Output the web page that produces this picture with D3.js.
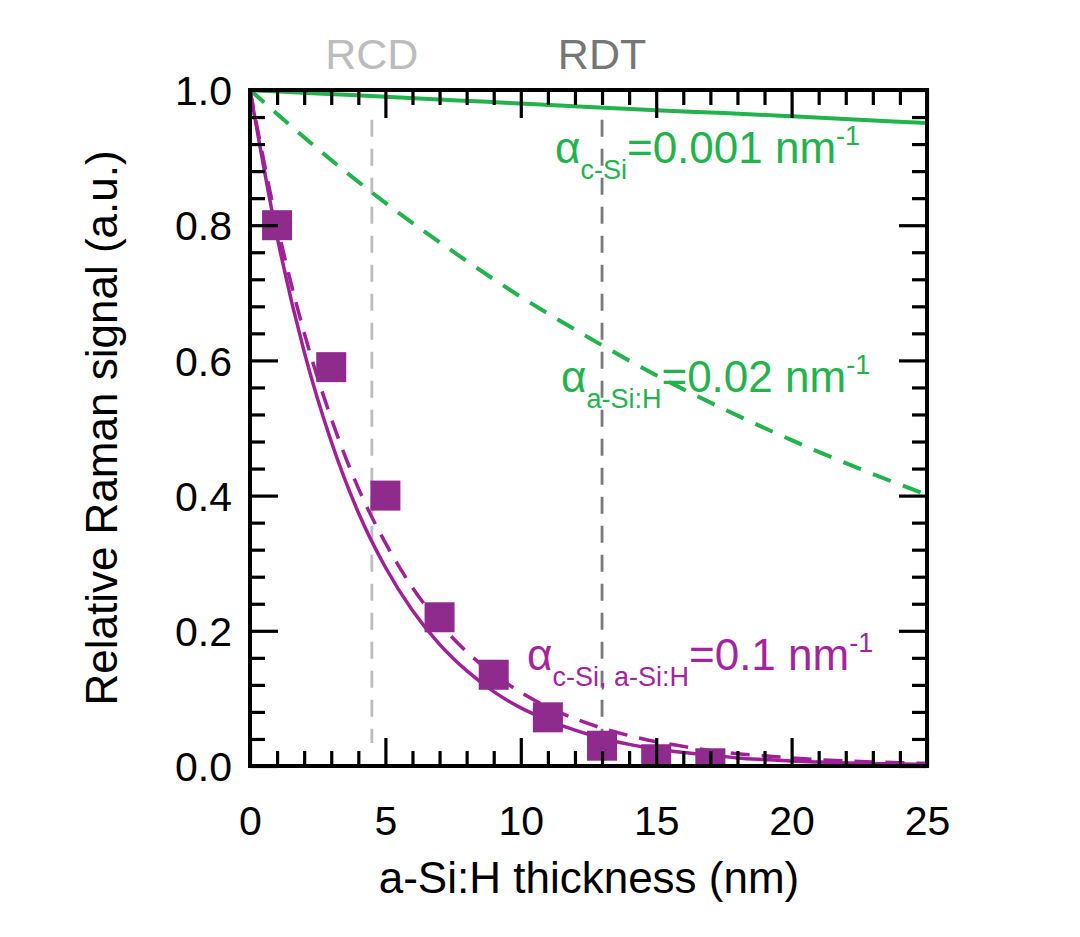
<!DOCTYPE html>
<html>
<head>
<meta charset="utf-8">
<script src="https://cdn.jsdelivr.net/npm/d3@7"></script>
<style>
  html, body { margin: 0; padding: 0; background: #fff; }
  svg { display: block; font-family: "Liberation Sans", Arial, sans-serif; }
</style>
</head>
<body>
<svg id="chart" width="1080" height="937"></svg>
<script>
// ---- data ----
const xTicks = [0, 5, 10, 15, 20, 25];
const yTicks = [0.0, 0.2, 0.4, 0.6, 0.8, 1.0];
const yTickLabels = ["0.0", "0.2", "0.4", "0.6", "0.8", "1.0"];

const thickness = [0,1,2,3,4,5,6,7,8,9,10,11,12,13,14,15,16,17,18,19,20,21,22,23,24,25];
const magentaSolid = [1.000,0.783,0.613,0.480,0.375,0.294,0.230,0.180,0.141,0.110,0.086,0.068,0.053,0.041,0.032,0.025,0.020,0.016,0.012,0.0095,0.0074,0.0058,0.0045,0.0036,0.0028,0.0022];
const magentaDashed = [1.000,0.801,0.641,0.514,0.411,0.330,0.264,0.211,0.169,0.136,0.109,0.087,0.070,0.056,0.045,0.036,0.029,0.023,0.018,0.015,0.012,0.0094,0.0075,0.0060,0.0048,0.0039];

const greenX = [0, 2.5, 5, 7.5, 10, 12.5, 15, 17.5, 20, 22.5, 25];
const greenSolid = [1.000, 0.995, 0.990, 0.985, 0.980, 0.975, 0.970, 0.966, 0.961, 0.956, 0.951];
const greenDashed = [1.000, 0.913, 0.833, 0.761, 0.694, 0.634, 0.578, 0.528, 0.482, 0.440, 0.401];

const squareX = [1, 3, 5, 7, 9, 11, 13, 15, 17];
const squareY = [0.80, 0.59, 0.40, 0.22, 0.135, 0.072, 0.030, 0.010, 0.004];

const markerLines = [
  { name: "RCD", x: 4.5, color: "#bdbdbd", textColor: "#bcbcbc" },
  { name: "RDT", x: 13, color: "#7a7a7a", textColor: "#767676" }
];

const xTitle = "a-Si:H thickness (nm)";
const yTitle = "Relative Raman signal (a.u.)";

// ---- layout ----
const svg = d3.select("#chart");
const L = 250, R = 927, T = 90, B = 766;
const x = d3.scaleLinear().domain([0, 25]).range([L, R]);
const y = d3.scaleLinear().domain([0, 1]).range([B, T]);

const GREEN = "#22b34c";
const MAG = "#a0209a";
const SQ = "#8f2b8d";
const MAGTXT = "#a3249c";

svg.append("defs").append("clipPath").attr("id", "plotclip")
  .append("rect").attr("x", L).attr("y", T).attr("width", R - L).attr("height", B - T);

const plot = svg.append("g").attr("clip-path", "url(#plotclip)");

// vertical marker lines
markerLines.forEach(m => {
  plot.append("line")
    .attr("x1", x(m.x)).attr("x2", x(m.x))
    .attr("y1", y(0.956)).attr("y2", y(0.034))
    .attr("stroke", m.color).attr("stroke-width", 2.8)
    .attr("stroke-dasharray", "17,12");
  svg.append("text")
    .attr("x", x(m.x)).attr("y", 69)
    .attr("text-anchor", "middle")
    .attr("font-size", 43)
    .attr("fill", m.textColor)
    .text(m.name);
});

const line = d3.line().curve(d3.curveMonotoneX);

// green curves
plot.append("path")
  .attr("d", line(greenX.map((d, i) => [x(d), y(greenSolid[i])])))
  .attr("fill", "none").attr("stroke", GREEN).attr("stroke-width", 4);
plot.append("path")
  .attr("d", line(greenX.map((d, i) => [x(d), y(greenDashed[i])])))
  .attr("fill", "none").attr("stroke", GREEN).attr("stroke-width", 4)
  .attr("stroke-dasharray", "19,13");

// magenta curves
plot.append("path")
  .attr("d", line(thickness.map((d, i) => [x(d), y(magentaSolid[i])])))
  .attr("fill", "none").attr("stroke", MAG).attr("stroke-width", 3.5);
plot.append("path")
  .attr("d", line(thickness.map((d, i) => [x(d), y(magentaDashed[i])])))
  .attr("fill", "none").attr("stroke", MAG).attr("stroke-width", 3.5)
  .attr("stroke-dasharray", "19,12");

// squares
const S = 30;
plot.selectAll("rect.sq").data(squareX).enter().append("rect")
  .attr("class", "sq")
  .attr("x", (d) => x(d) - S / 2)
  .attr("y", (d, i) => y(squareY[i]) - S / 2)
  .attr("width", S).attr("height", S)
  .attr("fill", SQ);

// ---- axes (ticks inward on all four sides) ----
const xMinor = d3.range(0, 26, 1).filter(v => v % 5 !== 0);
const yMinor = d3.range(0, 26, 1).filter(i => i % 5 !== 0).map(i => i * 0.04);
const MAJ = 28, MIN = 15;

const axB = svg.append("g").attr("transform", `translate(0,${B})`)
  .call(d3.axisBottom(x).tickValues(xTicks).tickSize(-MAJ).tickPadding(40).tickFormat(d3.format("d")));
const axBm = svg.append("g").attr("transform", `translate(0,${B})`)
  .call(d3.axisBottom(x).tickValues(xMinor).tickSize(-MIN).tickFormat(""));
const axT = svg.append("g").attr("transform", `translate(0,${T})`)
  .call(d3.axisTop(x).tickValues(xTicks).tickSize(-MAJ).tickFormat(""));
const axTm = svg.append("g").attr("transform", `translate(0,${T})`)
  .call(d3.axisTop(x).tickValues(xMinor).tickSize(-MIN).tickFormat(""));
const axL = svg.append("g").attr("transform", `translate(${L},0)`)
  .call(d3.axisLeft(y).tickValues(yTicks).tickSize(-MAJ).tickPadding(18).tickFormat((d, i) => yTickLabels[i]));
const axLm = svg.append("g").attr("transform", `translate(${L},0)`)
  .call(d3.axisLeft(y).tickValues(yMinor).tickSize(-MIN).tickFormat(""));
const axR = svg.append("g").attr("transform", `translate(${R},0)`)
  .call(d3.axisRight(y).tickValues(yTicks).tickSize(-MAJ).tickFormat(""));
const axRm = svg.append("g").attr("transform", `translate(${R},0)`)
  .call(d3.axisRight(y).tickValues(yMinor).tickSize(-MIN).tickFormat(""));

[axB, axBm, axT, axTm, axL, axLm, axR, axRm].forEach(g => {
  g.select(".domain").remove();
  g.selectAll(".tick line").attr("stroke", "#000").attr("stroke-width", 3.2);
  g.selectAll(".tick text").attr("fill", "#000").attr("font-size", 41)
    .attr("font-family", "'Liberation Sans', Arial, sans-serif");
});
axL.selectAll(".tick text").attr("dy", "0.36em");
axB.selectAll(".tick text").attr("dy", "0.71em");

// frame
svg.append("rect").attr("x", L).attr("y", T).attr("width", R - L).attr("height", B - T)
  .attr("fill", "none").attr("stroke", "#000").attr("stroke-width", 4);

// axis titles
svg.append("text").attr("x", 589).attr("y", 893)
  .attr("text-anchor", "middle").attr("font-size", 44).attr("fill", "#000")
  .text(xTitle);
svg.append("text")
  .attr("x", 0).attr("y", 0)
  .attr("transform", "translate(117,428) rotate(-90)")
  .attr("text-anchor", "middle").attr("font-size", 44).attr("fill", "#000")
  .text(yTitle);

// ---- annotations ----
function alphaLabel(px, py, sub, rest, color) {
  const t = svg.append("text").attr("x", px).attr("y", py).attr("fill", color).attr("font-size", 44);
  t.append("tspan").text("α");
  t.append("tspan").attr("font-size", 27).attr("dy", 16).text(sub);
  t.append("tspan").attr("dy", -16).text(rest);
  t.append("tspan").attr("font-size", 27).attr("dy", -18).text("-1");
}
alphaLabel(555, 163, "c-Si", "=0.001 nm", GREEN);
alphaLabel(561, 392, "a-Si:H", "=0.02 nm", GREEN);
alphaLabel(527, 670, "c-Si, a-Si:H", "=0.1 nm", MAGTXT);
</script>
</body>
</html>
